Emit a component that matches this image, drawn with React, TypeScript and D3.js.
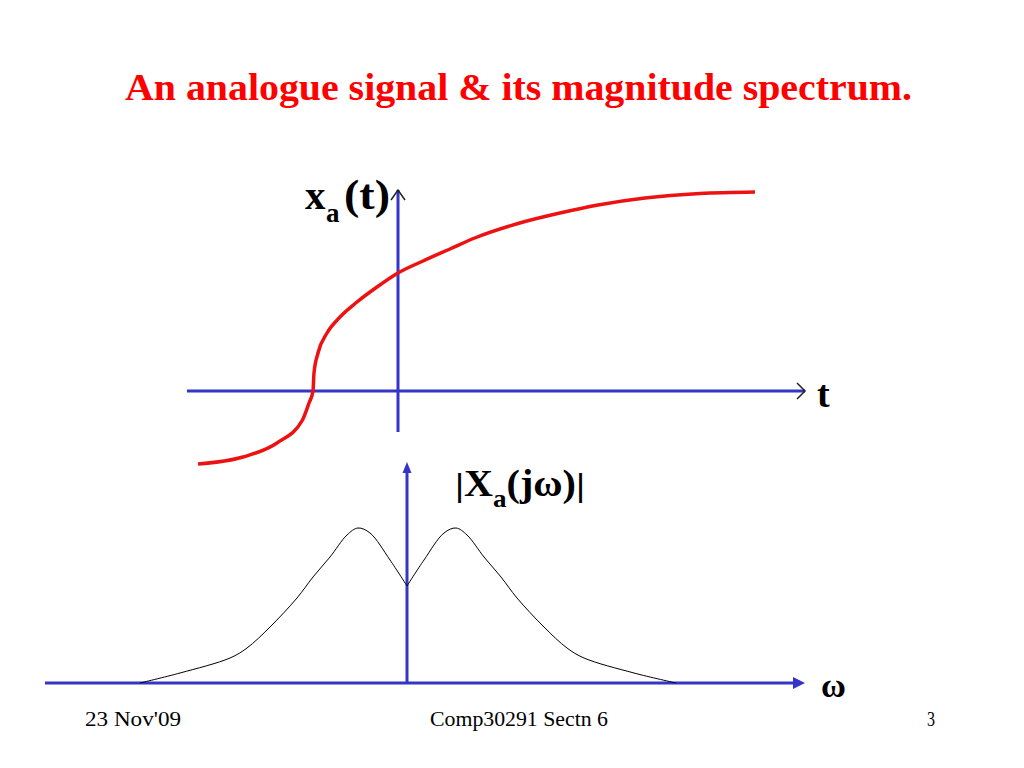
import React from 'react';
import * as d3 from 'd3';

// signal x_a(t): sample points (t, amplitude)
const signalT = [-2.0, -1.55, -1.21, -0.955, -0.89, -0.85, -0.84, -0.80, -0.71, -0.58, -0.41, -0.21, 0, 0.25, 0.52, 0.78, 1.2, 1.62, 2.0, 2.47, 3.02, 3.57];
const signalX = [-0.73, -0.66, -0.52, -0.29, -0.12, 0, 0.18, 0.38, 0.58, 0.74, 0.89, 1.04, 1.18, 1.30, 1.42, 1.535, 1.675, 1.78, 1.86, 1.93, 1.975, 1.99];

// magnitude spectrum |X_a(jw)|, left half and right half meet at the cusp w=0
const specWLeft = [-2.67, -2.27, -1.77, -1.60, -1.37, -1.10, -0.94, -0.77, -0.60, -0.49, -0.37, -0.17, 0];
const specMLeft = [0, 0.10, 0.25, 0.35, 0.56, 0.85, 1.06, 1.26, 1.48, 1.55, 1.50, 1.23, 0.97];
const specWRight = [0, 0.17, 0.37, 0.49, 0.60, 0.77, 0.94, 1.10, 1.37, 1.60, 1.77, 2.27, 2.69];
const specMRight = [0.97, 1.23, 1.50, 1.55, 1.48, 1.26, 1.06, 0.85, 0.56, 0.35, 0.25, 0.10, 0];

const title = 'An analogue signal & its magnitude spectrum.';
const footerLeft = "23 Nov'09";
const footerMid = 'Comp30291 Sectn 6';
const footerRight = '3';

const BLUE = '#3535c8';
const RED = '#ee1111';
const SERIF = '"Liberation Serif", "Times New Roman", serif';
const SANS = '"Liberation Sans", Arial, sans-serif';

const App: React.FC = () => {
  // top plot scales
  const tx = d3.scaleLinear().domain([-2.11, 4.07]).range([187, 805]);
  const ty = d3.scaleLinear().domain([-0.41, 2.01]).range([432, 190]);
  // bottom plot scales
  const wx = d3.scaleLinear().domain([-3.62, 3.98]).range([45, 805]);
  const my = d3.scaleLinear().domain([0, 2.21]).range([683, 462]);

  const sigLine = d3.line<number>()
    .x((_, i) => tx(signalT[i]))
    .y(d => ty(d))
    .curve(d3.curveMonotoneX);

  const specLine = (ws: number[]) => d3.line<number>()
    .x((_, i) => wx(ws[i]))
    .y(d => my(d))
    .curve(d3.curveCatmullRom.alpha(0.5));

  const ox = tx(0), oy = ty(0);
  const bx = wx(0), by = my(0);
  const tRight = tx.range()[1], tTop = ty.range()[1];
  const wRight = wx.range()[1], mTop = my.range()[1];

  return (
    <svg width={1024} height={768} style={{ position: 'absolute', left: 0, top: 0, background: '#fff' }}>
      <rect width={1024} height={768} fill="#fff" />
      <text x={125} y={100} fontFamily={SERIF} fontWeight="bold" fontSize={38} fill="#ff0000"
        textLength={787} lengthAdjust="spacingAndGlyphs">{title}</text>

      {/* top plot: axes */}
      <line x1={tx.range()[0]} x2={tRight} y1={oy} y2={oy} stroke={BLUE} strokeWidth={3} />
      <line x1={ox} x2={ox} y1={ty.range()[0]} y2={tTop} stroke={BLUE} strokeWidth={3} />
      <polyline points={`${ox - 7},${tTop + 10} ${ox},${tTop} ${ox + 7},${tTop + 10}`} fill="none" stroke="#222" strokeWidth={1.5} />
      <polyline points={`${tRight - 8},${oy - 8} ${tRight},${oy} ${tRight - 8},${oy + 8}`} fill="none" stroke="#222" strokeWidth={1.5} />
      <path d={sigLine(signalX) ?? ''} fill="none" stroke={RED} strokeWidth={3.5} />

      <text x={305} y={209} fontFamily={SERIF} fontWeight="bold" fontSize={41} fill="#000">x</text>
      <text x={326} y={222} fontFamily={SERIF} fontWeight="bold" fontSize={27} fill="#000">a</text>
      <text x={344} y={209} fontFamily={SERIF} fontWeight="bold" fontSize={42} fill="#000"
        textLength={46} lengthAdjust="spacingAndGlyphs">(t)</text>
      <text x={817} y={407} fontFamily={SERIF} fontWeight="bold" fontSize={38} fill="#000">t</text>

      {/* bottom plot: axes */}
      <line x1={wx.range()[0]} x2={wRight - 6} y1={by} y2={by} stroke={BLUE} strokeWidth={3} />
      <line x1={bx} x2={bx} y1={by} y2={mTop + 8} stroke={BLUE} strokeWidth={3} />
      <polygon points={`${bx - 4.5},${mTop + 11} ${bx},${mTop} ${bx + 4.5},${mTop + 11}`} fill={BLUE} />
      <polygon points={`${wRight - 12},${by - 6} ${wRight},${by} ${wRight - 12},${by + 6}`} fill={BLUE} />
      <path d={specLine(specWLeft)(specMLeft) ?? ''} fill="none" stroke="#000" strokeWidth={1} />
      <path d={specLine(specWRight)(specMRight) ?? ''} fill="none" stroke="#000" strokeWidth={1} />

      <text x={455} y={496} fontFamily={SERIF} fontWeight="bold" fontSize={37} fill="#000"
        textLength={130} lengthAdjust="spacingAndGlyphs">
        <tspan fontWeight="normal" fontFamily={SANS} fontSize={32}>|</tspan>
        <tspan>X</tspan>
        <tspan fontSize={25} dy={11}>a</tspan>
        <tspan dy={-11}>(jω)</tspan>
        <tspan fontWeight="normal" fontFamily={SANS} fontSize={32}>|</tspan>
      </text>
      <text x={821} y={697} fontFamily={SERIF} fontWeight="bold" fontSize={34} fill="#000">ω</text>

      {/* footer */}
      <text x={85} y={726} fontFamily={SERIF} fontSize={20} fill="#000" textLength={96} lengthAdjust="spacingAndGlyphs">{footerLeft}</text>
      <text x={430} y={726} fontFamily={SERIF} fontSize={20} fill="#000" textLength={178} lengthAdjust="spacingAndGlyphs">{footerMid}</text>
      <text x={927} y={726} fontFamily={SERIF} fontSize={20} fill="#000" textLength={8} lengthAdjust="spacingAndGlyphs">{footerRight}</text>
    </svg>
  );
};

export default App;
